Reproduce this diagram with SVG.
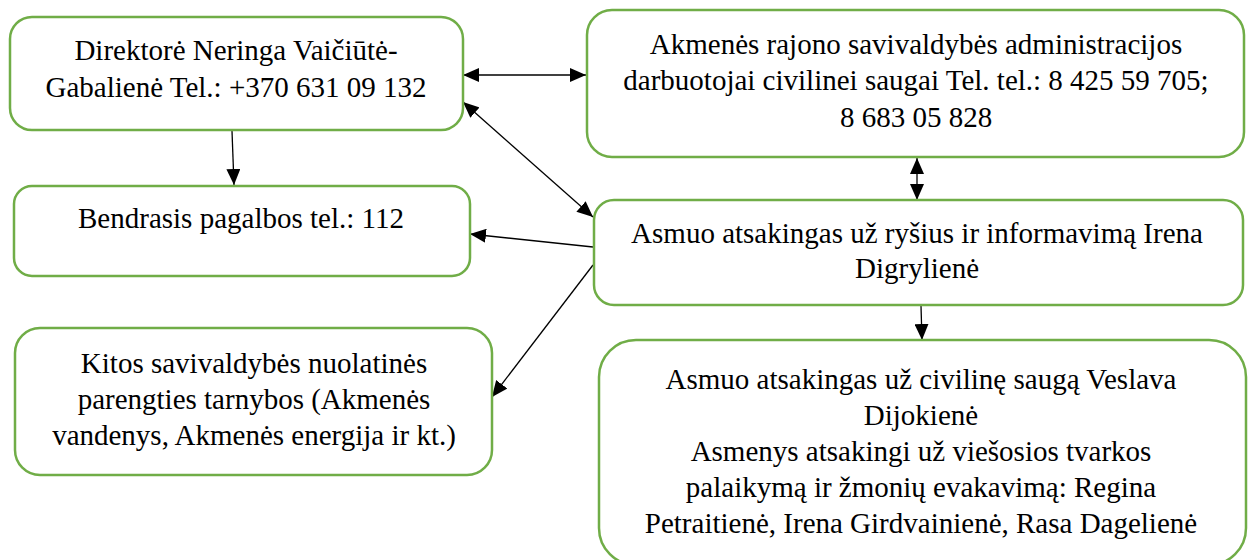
<svg xmlns="http://www.w3.org/2000/svg" width="1250" height="560" viewBox="0 0 1250 560">
<style>
.box{fill:#fff;stroke:#70AD47;stroke-width:2.5}
.t{font-family:"Liberation Serif","Times New Roman",serif;font-size:29px;fill:#000;text-anchor:middle}
.c{stroke:#000;stroke-width:1.3;fill:none}
</style>
<defs>
<marker id="ah" viewBox="0 0 16 14" refX="16" refY="7" markerWidth="16" markerHeight="14" markerUnits="userSpaceOnUse" orient="auto-start-reverse">
<path d="M0,0 L16,7 L0,14 z" fill="#000"/>
</marker>
</defs>
<rect width="1250" height="560" fill="#fff"/>
<g id="connectors">
<path class="c" d="M232,131 L234,185" marker-end="url(#ah)"/>
<path class="c" d="M463,75 L586,75" marker-start="url(#ah)" marker-end="url(#ah)"/>
<path class="c" d="M463,102 L593,217" marker-start="url(#ah)" marker-end="url(#ah)"/>
<path class="c" d="M917,158 L917,200" marker-start="url(#ah)" marker-end="url(#ah)"/>
<path class="c" d="M593,247 L470,234" marker-end="url(#ah)"/>
<path class="c" d="M593,265 L492,397" marker-end="url(#ah)"/>
<path class="c" d="M921,306 L922,340" marker-end="url(#ah)"/>
</g>
<g id="direktore">
<rect class="box" x="10" y="17" width="453" height="113" rx="22"/>
<text class="t" x="236" y="60">Direktorė Neringa Vaičiūtė-</text>
<text class="t" x="236" y="97">Gabalienė Tel.: +370 631 09 132</text>
</g>
<g id="akmenes">
<rect class="box" x="587" y="10" width="657" height="147" rx="25"/>
<text class="t" x="916" y="54">Akmenės rajono savivaldybės administracijos</text>
<text class="t" x="916" y="90">darbuotojai civilinei saugai Tel. tel.: 8 425 59 705;</text>
<text class="t" x="916" y="127">8 683 05 828</text>
</g>
<g id="bendrasis">
<rect class="box" x="14" y="186" width="456" height="90" rx="18"/>
<text class="t" x="241" y="228">Bendrasis pagalbos tel.: 112</text>
</g>
<g id="rysiai">
<rect class="box" x="594" y="200" width="649" height="105" rx="20"/>
<text class="t" x="917" y="243">Asmuo atsakingas už ryšius ir informavimą Irena</text>
<text class="t" x="917" y="278">Digrylienė</text>
</g>
<g id="kitos">
<rect class="box" x="15" y="328" width="477" height="147" rx="25"/>
<text class="t" x="254" y="373">Kitos savivaldybės nuolatinės</text>
<text class="t" x="254" y="409">parengties tarnybos (Akmenės</text>
<text class="t" x="254" y="445">vandenys, Akmenės energija ir kt.)</text>
</g>
<g id="civiline">
<rect class="box" x="599" y="340" width="647" height="225" rx="37"/>
<text class="t" x="921" y="389">Asmuo atsakingas už civilinę saugą Veslava</text>
<text class="t" x="921" y="425">Dijokienė</text>
<text class="t" x="921" y="461">Asmenys atsakingi už viešosios tvarkos</text>
<text class="t" x="921" y="497">palaikymą ir žmonių evakavimą: Regina</text>
<text class="t" x="921" y="533">Petraitienė, Irena Girdvainienė, Rasa Dagelienė</text>
</g>
</svg>
